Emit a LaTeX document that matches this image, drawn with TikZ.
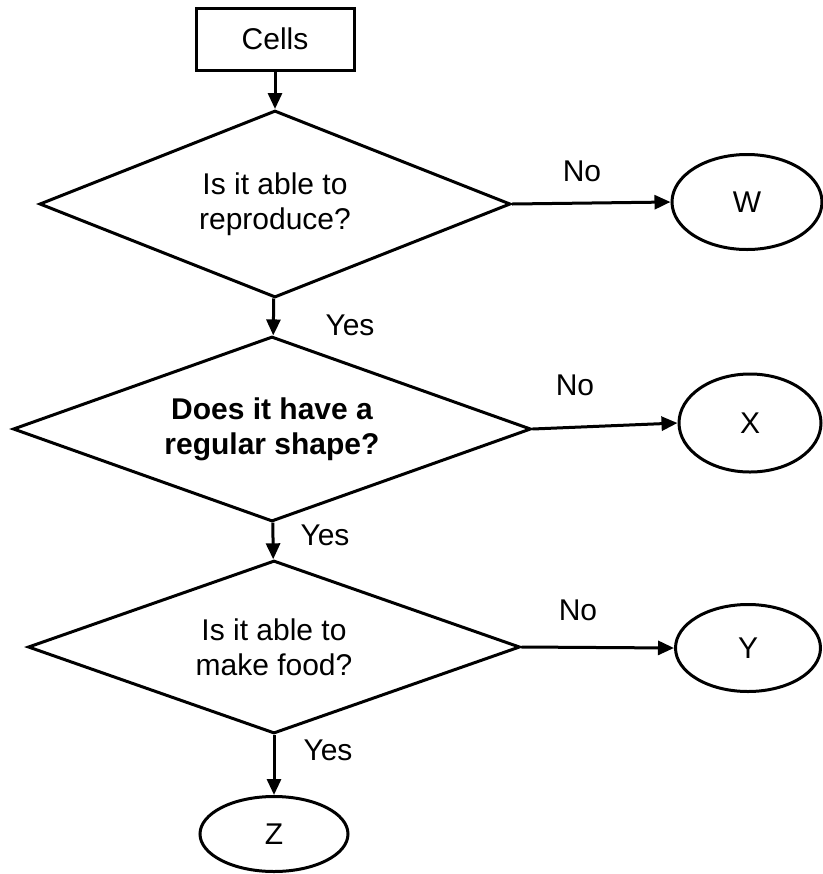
\documentclass[tikz,border=0pt]{standalone}
\usepackage{fontspec}
\setmainfont{Liberation Sans}
\usetikzlibrary{positioning,arrows.meta,shapes.geometric}

\begin{document}
\begin{tikzpicture}[
  x=0.5pt, y=-0.5pt,
  every node/.style={font=\fontsize{15}{17.5}\selectfont},
  box/.style={rectangle, draw, line width=1.5pt, minimum width=79pt, minimum height=31pt, inner sep=0pt},
  query/.style={diamond, draw, line width=1.5pt, aspect=2.8, inner sep=0pt, align=center},
  leaf/.style={ellipse, draw, line width=1.5pt, inner sep=0pt},
  arr/.style={-{Triangle[length=8pt, width=7pt]}, line width=1.5pt},
  lbl/.style={inner sep=0pt}
]
  \useasboundingbox (0,0) rectangle (823,874);

  \node[box] (cells) at (275,39) {Cells};
  \node[query, minimum width=235.5pt, minimum height=93.5pt] (q1) at (275,204) {Is it able to\\reproduce?};
  \node[query, minimum width=259pt, minimum height=92.5pt, font=\fontsize{15}{17.5}\selectfont\bfseries] (q2) at (272,429) {Does it have a\\regular shape?};
  \node[query, minimum width=246pt, minimum height=86.5pt] (q3) at (274,647) {Is it able to\\make food?};

  \node[leaf, minimum width=75pt, minimum height=47.5pt] (w) at (747,202) {W};
  \node[leaf, minimum width=71pt, minimum height=49pt] (x) at (750,423) {X};
  \node[leaf, minimum width=72.5pt, minimum height=43.5pt] (y) at (748,648) {Y};
  \node[leaf, minimum width=74pt, minimum height=37.5pt] (z) at (274,834) {Z};

  % yes branch goes down
  \draw[arr] (cells) -- (q1);
  \draw[arr] (q1) -- (q2);
  \draw[arr] (q2) -- (q3);
  \draw[arr] (q3) -- (z);

  % no branch goes right
  \draw[arr] (q1.east) -- (w.west);
  \draw[arr] (q2.east) -- (x.west);
  \draw[arr] (q3.east) -- (y.west);

  \node[lbl] (no1) at (582,171) {No};
  \node[lbl] (no2) at (575,385) {No};
  \node[lbl] (no3) at (578,610) {No};
  \node[lbl] (yes1) at (350,325) {Yes};
  \node[lbl] (yes2) at (325,535) {Yes};
  \node[lbl] (yes3) at (328,750) {Yes};
\end{tikzpicture}
\end{document}
